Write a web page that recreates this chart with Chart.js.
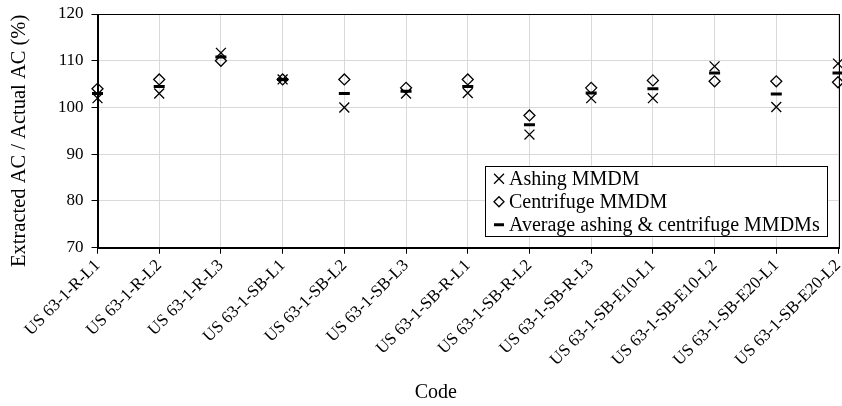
<!DOCTYPE html>
<html>
<head>
<meta charset="utf-8">
<script src="https://cdn.jsdelivr.net/npm/chart.js@4/dist/chart.umd.min.js"></script>
<style>
  html, body { margin: 0; padding: 0; background: #fff; }
  #wrap { width: 842px; height: 406px; position: relative; }
</style>
</head>
<body>
<div id="wrap"><canvas id="acChart"></canvas></div>
<script>
// values
const codes = [
  'US 63-1-R-L1', 'US 63-1-R-L2', 'US 63-1-R-L3', 'US 63-1-SB-L1', 'US 63-1-SB-L2',
  'US 63-1-SB-L3', 'US 63-1-SB-R-L1', 'US 63-1-SB-R-L2', 'US 63-1-SB-R-L3',
  'US 63-1-SB-E10-L1', 'US 63-1-SB-E10-L2', 'US 63-1-SB-E20-L1', 'US 63-1-SB-E20-L2'
];
const ashing     = [102, 103, 111.7, 106, 100, 103, 103.1, 94.2, 102, 102, 108.8, 100.1, 109.4];
const centrifuge = [104, 106, 110, 106, 106, 104.2, 106, 98.3, 104.2, 105.8, 105.6, 105.6, 105.4];
const average    = [103, 104.5, 110.8, 106, 103, 103.5, 104.5, 96.3, 103.1, 104, 107.4, 102.9, 107.4];
const yTicks = [70, 80, 90, 100, 110, 120];

const FONT = '"Liberation Serif", "Times New Roman", serif';
const X_TITLE = 'Code';
const Y_TITLE = 'Extracted AC / Actual AC (%)';

// black frame around the plot area
const framePlugin = {
  id: 'frame',
  afterDraw(chart) {
    const { ctx, chartArea: a } = chart;
    ctx.save();
    ctx.strokeStyle = '#000';
    ctx.lineWidth = 1;
    ctx.strokeRect(Math.round(a.left) + 0.5, Math.round(a.top) + 0.5,
      Math.round(a.right - a.left), Math.round(a.bottom - a.top));
    ctx.restore();
  }
};

// axis titles drawn by hand: the originals are not centred on the plot area
const axisTitlePlugin = {
  id: 'axisTitles',
  afterDraw(chart) {
    const { ctx, chartArea: a } = chart;
    ctx.save();
    ctx.fillStyle = '#000';
    ctx.font = '20px ' + FONT;
    ctx.textAlign = 'center';
    ctx.textBaseline = 'middle';
    ctx.fillText(X_TITLE, (a.left + a.right) / 2 - 32, chart.height - 13);
    ctx.translate(20, (a.top + a.bottom) / 2 + 10);
    ctx.rotate(-Math.PI / 2);
    ctx.font = '20.5px ' + FONT;
    ctx.fillText(Y_TITLE, 0, 0);
    ctx.restore();
  }
};

// boxed legend sitting inside the plot, bottom right
const boxLegendPlugin = {
  id: 'boxLegend',
  afterDraw(chart) {
    const { ctx, chartArea: a } = chart;
    const sets = chart.data.datasets;
    ctx.save();
    ctx.font = '20px ' + FONT;
    let textW = 0;
    sets.forEach(ds => { textW = Math.max(textW, ctx.measureText(ds.label).width); });
    const rowH = 23;
    const boxW = Math.ceil(24 + textW + 7);
    const boxH = rowH * sets.length + 1;
    const right = a.right - 11;
    const bottom = a.bottom - 12;
    const left = right - boxW, top = bottom - boxH;
    ctx.fillStyle = '#fff';
    ctx.fillRect(left, top, boxW, boxH);
    ctx.strokeStyle = '#000';
    ctx.lineWidth = 1;
    ctx.strokeRect(Math.round(left) + 0.5, Math.round(top) + 0.5, boxW, boxH);
    sets.forEach((ds, i) => {
      const cy = top + 13 + i * rowH;
      ctx.strokeStyle = '#000';
      ctx.fillStyle = 'rgba(0,0,0,0)';
      ctx.lineWidth = ds.pointBorderWidth;
      Chart.helpers.drawPoint(ctx, {
        pointStyle: ds.pointStyle,
        radius: ds.legendRadius,
        borderWidth: ds.pointBorderWidth,
        rotation: 0
      }, left + 14, cy);
      ctx.fillStyle = '#000';
      ctx.textBaseline = 'middle';
      ctx.textAlign = 'left';
      ctx.fillText(ds.label, left + 24, cy + 1);
    });
    ctx.restore();
  }
};

new Chart(document.getElementById('acChart'), {
  type: 'line',
  data: {
    labels: codes,
    datasets: [{
      label: 'Ashing MMDM',
      data: ashing,
      showLine: false,
      pointStyle: 'crossRot',
      pointRadius: 7,
      legendRadius: 7,
      pointBorderWidth: 1.3,
      borderColor: '#000',
      backgroundColor: 'rgba(0,0,0,0)'
    }, {
      label: 'Centrifuge MMDM',
      data: centrifuge,
      showLine: false,
      pointStyle: 'rectRot',
      pointRadius: 5.5,
      legendRadius: 5,
      pointBorderWidth: 1.3,
      borderColor: '#000',
      backgroundColor: 'rgba(0,0,0,0)'
    }, {
      label: 'Average ashing & centrifuge MMDMs',
      data: average,
      showLine: false,
      pointStyle: 'line',
      pointRadius: 5.5,
      legendRadius: 5,
      pointBorderWidth: 3,
      borderColor: '#000',
      backgroundColor: '#000'
    }]
  },
  options: {
    responsive: true,
    maintainAspectRatio: false,
    animation: false,
    events: [],
    layout: { autoPadding: false, padding: { left: 0, right: 4, top: 14, bottom: 1 } },
    plugins: {
      legend: { display: false },
      tooltip: { enabled: false }
    },
    scales: {
      x: {
        type: 'category',
        offset: false,
        grid: { color: '#d9d9d9', tickColor: '#000', tickLength: 6 },
        border: { color: '#000', width: 1 },
        afterFit: scale => { scale.paddingLeft = 0; scale.paddingRight = 0; },
        ticks: {
          autoSkip: false,
          minRotation: 45,
          maxRotation: 45,
          padding: 2,
          color: '#000',
          font: { family: FONT, size: 17 }
        },
        // kept only to reserve room; the text is painted by axisTitlePlugin
        title: {
          display: true,
          text: X_TITLE,
          color: 'rgba(0,0,0,0)',
          padding: { top: 9, bottom: 0 },
          font: { family: FONT, size: 20 }
        }
      },
      y: {
        min: 70,
        max: 120,
        afterBuildTicks: scale => { scale.ticks = yTicks.map(v => ({ value: v })); },
        afterFit: scale => { scale.paddingTop = 0; scale.paddingBottom = 0; },
        grid: { color: '#d9d9d9', tickColor: '#000', tickLength: 6 },
        border: { color: '#000', width: 1 },
        ticks: {
          padding: 8,
          color: '#000',
          font: { family: FONT, size: 17 }
        },
        title: {
          display: true,
          text: Y_TITLE,
          color: 'rgba(0,0,0,0)',
          padding: { top: 8, bottom: 18 },
          font: { family: FONT, size: 20 }
        }
      }
    }
  },
  plugins: [framePlugin, axisTitlePlugin, boxLegendPlugin]
});
</script>
</body>
</html>
